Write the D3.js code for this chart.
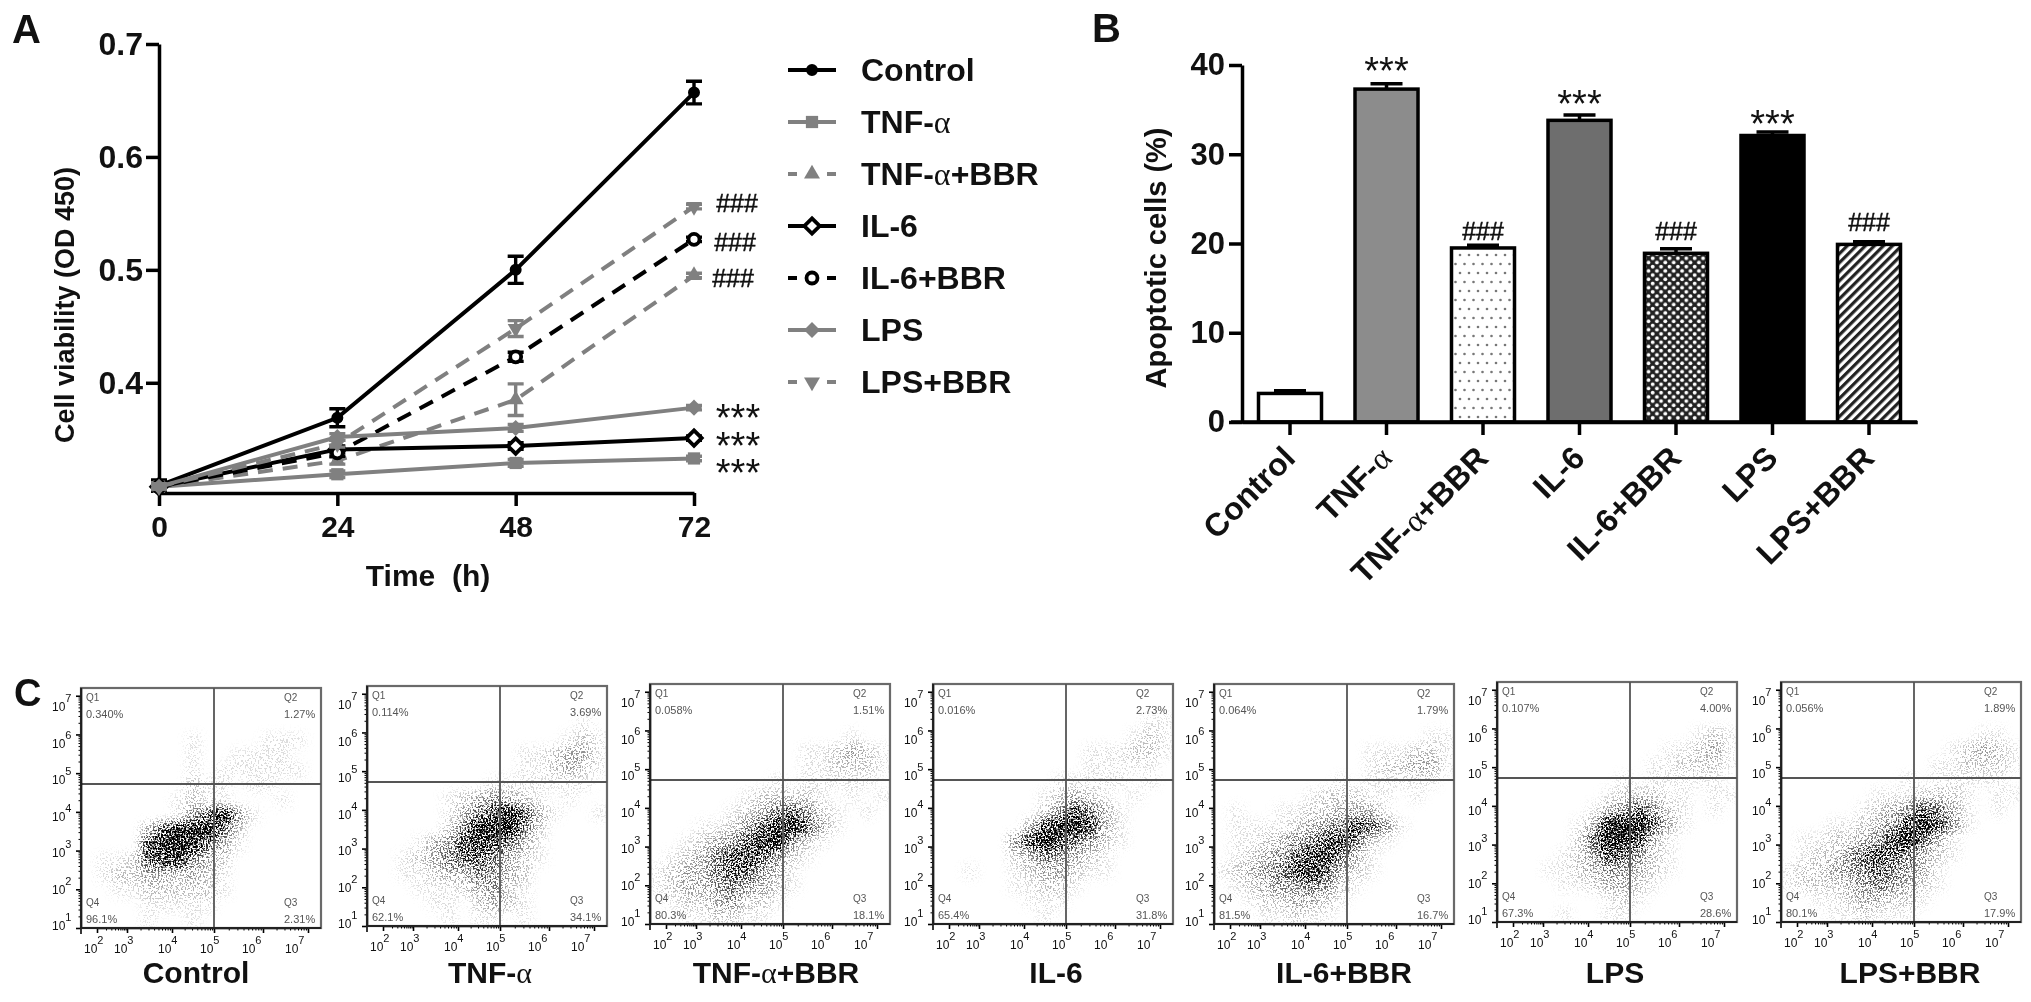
<!DOCTYPE html>
<html>
<head>
<meta charset="utf-8">
<script src="https://cdn.jsdelivr.net/npm/d3@7"></script>
<style>
  html, body { margin: 0; padding: 0; background: #fff; }
  svg { display: block; filter: blur(0.6px); }
  text { font-family: "Liberation Sans", Arial, sans-serif; fill: #111; }
</style>
</head>
<body>
<script>
// panel A values
var timePoints = [0, 24, 48, 72];
var controlMean = [0.309, 0.369, 0.500, 0.657];
var controlErr = [0.005, 0.008, 0.012, 0.010];
var tnfMean = [0.308, 0.319, 0.329, 0.333];
var tnfErr = [0.002, 0.003, 0.003, 0.002];
var tnfBbrMean = [0.308, 0.331, 0.385, 0.495];
var tnfBbrErr = [0.002, 0.003, 0.014, 0.002];
var il6Mean = [0.308, 0.341, 0.344, 0.351];
var il6Err = [0.002, 0.003, 0.003, 0.002];
var il6BbrMean = [0.308, 0.338, 0.423, 0.527];
var il6BbrErr = [0.002, 0.003, 0.004, 0.002];
var lpsMean = [0.308, 0.352, 0.360, 0.378];
var lpsErr = [0.002, 0.003, 0.003, 0.002];
var lpsBbrMean = [0.308, 0.346, 0.448, 0.556];
var lpsBbrErr = [0.002, 0.003, 0.007, 0.002];
var viabilityTicks = [0.4, 0.5, 0.6, 0.7];

// panel B values
var groups = ['Control', 'TNF-α', 'TNF-α+BBR', 'IL-6', 'IL-6+BBR', 'LPS', 'LPS+BBR'];
var apoptosis = [3.2, 37.3, 19.5, 33.8, 18.9, 32.1, 19.9];
var apoptosisErr = [0.3, 0.6, 0.3, 0.6, 0.5, 0.4, 0.3];
var apoptosisTicks = [0, 10, 20, 30, 40];

// panel C gate percentages per group
var q1Pct = ['0.340%', '0.114%', '0.058%', '0.016%', '0.064%', '0.107%', '0.056%'];
var q2Pct = ['1.27%', '3.69%', '1.51%', '2.73%', '1.79%', '4.00%', '1.89%'];
var q3Pct = ['2.31%', '34.1%', '18.1%', '31.8%', '16.7%', '28.6%', '17.9%'];
var q4Pct = ['96.1%', '62.1%', '80.3%', '65.4%', '81.5%', '67.3%', '80.1%'];

// how dark the dot cloud looks, 16 x 16 cells over each plot, top row first
var densityControl = [
  '0000000000000000', '0000000000000000', '0000000000000000', '0000000100001110',
  '0000000100111100', '0000000101111110', '0000000211011000', '0000001211000100',
  '0000001469410000', '0000379995200000', '0000799853100000', '0112678432000000',
  '0122332321000000', '0011222221000000', '0000111110000000', '0000100100000000'];
var densityTnf = [
  '0000000000000000', '0000000000000000', '0000000000000010', '0000000000000121',
  '0000000000112331', '0000000000112321', '0000000011111110', '0000012343210100',
  '0000013579631001', '0000025999520000', '0001347875310000', '0012356653210000',
  '0011233543200000', '0001112342100000', '0000110232100000', '0000010110100000'];
var densityTnfBbr = [
  '0000000000000000', '0000000000000000', '0000000000000000', '0000000000000100',
  '0000000000112321', '0000000000112221', '0000000010111110', '0000001222210101',
  '0000012356421010', '0001124689631000', '0012346894210000', '0123577642100000',
  '1233566431000000', '1233454321000000', '0122342210000000', '0011221100000000'];
var densityIl6 = [
  '0000000000000000', '0000000000000000', '0000000000000011', '0000000000000121',
  '0000000000111221', '0000000000111110', '0000000011111010', '0000000123210100',
  '0000000247531000', '0000003799731000', '0000047975421000', '0000023543210000',
  '0010012332110000', '0000011221000000', '0000001110000000', '0000000100000000'];
var densityIl6Bbr = [
  '0000000000000000', '0000000000000000', '0000000000000000', '0000000000000011',
  '0000000000111221', '0000000000122331', '0000000010111110', '0000001222110100',
  '0100112233310000', '0111123457641000', '0112345785210000', '0123467853100000',
  '1234578632100000', '0123445421000000', '0012233210000000', '0001121100000000'];
var densityLps = [
  '0000000000000000', '0000000000000000', '0000000000000000', '0000000000000121',
  '0000000000011231', '0000000000112221', '0000000010111110', '0000000122211011',
  '0000001346421010', '0000013999631000', '0000026997310000', '0000124764210000',
  '0001123443210000', '0000112332100000', '0000000121000000', '0000100110000000'];
var densityLpsBbr = [
  '0000000000000000', '0000000000000000', '0000000000000000', '0000000000000110',
  '0000000000012321', '0000000000112221', '0000000010111110', '0000001112221011',
  '0000012346531010', '0001123479741000', '0112234796310000', '0122467653210000',
  '1223456543100000', '1222345432100000', '0011233221000000', '0001121110000000'];
var densities = [densityControl, densityTnf, densityTnfBbr, densityIl6, densityIl6Bbr, densityLps, densityLpsBbr];

var decadesY = [1, 2, 3, 4, 5, 6, 7];
var decadesX = [2, 3, 4, 5, 6, 7];
var gateX = 5;     // 10^5
var gateY = 4.72;

var grey = '#808080', black = '#000';

var svg = d3.select('body').append('svg').attr('width', 2031).attr('height', 1002);
var defs = svg.append('defs');

function addText(g, str, size, weight) {
  // the alpha in the original is a Symbol glyph, so it gets a serif tspan
  var t = g.append('text').attr('font-size', size).attr('font-weight', weight || 'bold');
  str.split(/(α)/).forEach(function (part) {
    if (!part) return;
    var s = t.append('tspan').text(part);
    if (part === 'α') s.style('font-family', '"Liberation Serif", serif').attr('font-weight', 'normal');
  });
  return t;
}

function styleAxis(g, width, fontSize) {
  g.selectAll('.domain, .tick line').attr('stroke', black).attr('stroke-width', width);
  g.selectAll('.tick text').attr('font-family', '"Liberation Sans", Arial, sans-serif')
    .attr('font-size', fontSize || 30).attr('font-weight', 'bold').attr('fill', '#111');
}

/* ---------- A ---------- */
function drawLines() {
  var x = d3.scaleLinear().domain([0, 72]).range([159, 694]);
  var y = d3.scaleLinear().domain([0.3024, 0.7]).range([493, 44]);

  var series = [
    { name: 'Control', mean: controlMean, err: controlErr, color: black, shape: d3.symbolCircle, size: 113, legend: 0 },
    { name: 'TNF-α', mean: tnfMean, err: tnfErr, color: grey, shape: d3.symbolSquare, size: 150, legend: 1 },
    { name: 'TNF-α+BBR', mean: tnfBbrMean, err: tnfBbrErr, color: grey, dash: true, shape: d3.symbolTriangle, size: 110, legend: 2 },
    { name: 'IL-6', mean: il6Mean, err: il6Err, color: black, open: true, shape: d3.symbolDiamond2, size: 150, legend: 3 },
    { name: 'IL-6+BBR', mean: il6BbrMean, err: il6BbrErr, color: black, open: true, dash: true, shape: d3.symbolCircle, size: 95, legend: 4 },
    { name: 'LPS+BBR', mean: lpsBbrMean, err: lpsBbrErr, color: grey, dash: true, shape: d3.symbolTriangle, size: 110, flip: true, legend: 6 },
    { name: 'LPS', mean: lpsMean, err: lpsErr, color: grey, shape: d3.symbolDiamond2, size: 165, legend: 5 }
  ];

  var g = svg.append('g');

  var xAxis = g.append('g').attr('transform', 'translate(0,493)')
    .call(d3.axisBottom(x).tickValues(timePoints).tickSize(13).tickSizeOuter(0).tickPadding(10));
  styleAxis(xAxis, 3.5);
  var yAxis = g.append('g').attr('transform', 'translate(159,0)')
    .call(d3.axisLeft(y).tickValues(viabilityTicks).tickFormat(d3.format('.1f')).tickSize(13).tickSizeOuter(0).tickPadding(3));
  styleAxis(yAxis, 3.5, 32);

  var line = d3.line().x(function (d, i) { return x(timePoints[i]); }).y(function (d) { return y(d); });

  function marker(sel, s, tx, ty) {
    sel.append('path')
      .attr('d', d3.symbol().type(s.shape).size(s.size)())
      .attr('transform', 'translate(' + tx + ',' + ty + ')' + (s.flip ? ' rotate(180)' : ''))
      .attr('fill', s.open ? '#fff' : s.color)
      .attr('stroke', s.open ? s.color : 'none')
      .attr('stroke-width', 3.8);
  }

  series.forEach(function (s) {
    var sg = g.append('g');
    sg.append('path').attr('d', line(s.mean)).attr('fill', 'none')
      .attr('stroke', s.color).attr('stroke-width', 4)
      .attr('stroke-dasharray', s.dash ? '15,10' : null);
    s.mean.forEach(function (m, i) {
      var px = x(timePoints[i]);
      var lo = y(m - s.err[i]), hi = y(m + s.err[i]);
      sg.append('path')
        .attr('d', 'M' + (px - 8) + ',' + lo + 'H' + (px + 8) + 'M' + (px - 8) + ',' + hi + 'H' + (px + 8) + 'M' + px + ',' + lo + 'V' + hi)
        .attr('fill', 'none').attr('stroke', s.color).attr('stroke-width', 3.4);
      marker(sg, s, px, y(m));
    });
  });

  // legend
  var legendY = d3.scalePoint().domain(d3.range(7)).range([70, 382]);
  series.forEach(function (s) {
    var ly = legendY(s.legend);
    var lg = g.append('g');
    lg.append('line').attr('x1', 788).attr('x2', 836).attr('y1', ly).attr('y2', ly)
      .attr('stroke', s.color).attr('stroke-width', 4)
      .attr('stroke-dasharray', s.dash ? '9,30,9' : null);
    marker(lg, s, 812, ly);
    addText(lg, s.name, 32).attr('x', 861).attr('y', ly + 11);
  });

  // significance marks beside the last point
  var hashes = [0.559, 0.524, 0.492];
  var stars = [0.378, 0.353, 0.329];
  var hashX = [737, 735, 733];
  hashes.forEach(function (v, i) {
    addText(g, '###', 25, 'normal').attr('x', hashX[i]).attr('y', y(v) + 8.5).attr('text-anchor', 'middle')
      .style('stroke', '#111').style('stroke-width', 0.5);
  });
  stars.forEach(function (v) {
    addText(g, '***', 38, 'normal').attr('x', 738).attr('y', y(v) + 23).attr('text-anchor', 'middle');
  });

  addText(g, 'Time  (h)', 30).style('white-space', 'pre').attr('x', 428).attr('y', 586).attr('text-anchor', 'middle');
  addText(g, 'Cell viability (OD 450)', 27)
    .attr('transform', 'translate(74,305) rotate(-90)').attr('text-anchor', 'middle');
  addText(g, 'A', 40).attr('x', 12).attr('y', 43);
}

/* ---------- B ---------- */
function drawBars() {
  var x = d3.scaleBand().domain(groups).range([1241.75, 1917.25]);
  var y = d3.scaleLinear().domain([0, 40]).range([422, 65]);
  var barW = 63;

  var dots = defs.append('pattern').attr('id', 'dots').attr('patternUnits', 'userSpaceOnUse')
    .attr('width', 9).attr('height', 18);
  dots.append('rect').attr('width', 9).attr('height', 18).attr('fill', '#fff');
  dots.append('circle').attr('cx', 2).attr('cy', 3).attr('r', 1.3).attr('fill', '#777');
  dots.append('circle').attr('cx', 6.5).attr('cy', 12).attr('r', 1.3).attr('fill', '#777');

  var check = defs.append('pattern').attr('id', 'check').attr('patternUnits', 'userSpaceOnUse')
    .attr('width', 8.4).attr('height', 8.4);
  check.append('rect').attr('width', 8.4).attr('height', 8.4).attr('fill', '#222');
  check.append('circle').attr('cx', 2.1).attr('cy', 2.1).attr('r', 1.9).attr('fill', '#fff');
  check.append('circle').attr('cx', 6.3).attr('cy', 6.3).attr('r', 1.9).attr('fill', '#fff');

  var hatch = defs.append('pattern').attr('id', 'hatch').attr('patternUnits', 'userSpaceOnUse')
    .attr('width', 6.4).attr('height', 6.4).attr('patternTransform', 'rotate(45)');
  hatch.append('rect').attr('width', 6.4).attr('height', 6.4).attr('fill', '#fff');
  hatch.append('rect').attr('width', 3.2).attr('height', 6.4).attr('fill', '#222');

  var fills = ['#fff', '#8c8c8c', 'url(#dots)', '#6e6e6e', 'url(#check)', '#000', 'url(#hatch)'];
  var marks = ['', '***', '###', '***', '###', '***', '###'];
  var markAt = [0, 40.4, 21.4, 36.7, 21.3, 34.5, 22.3];

  var g = svg.append('g');
  var cx = function (d) { return x(d) + x.bandwidth() / 2; };

  g.selectAll('.err').data(groups).enter().append('path')
    .attr('d', function (d, i) {
      var c = cx(d), t = y(apoptosis[i] + apoptosisErr[i]);
      return 'M' + (c - 16) + ',' + t + 'H' + (c + 16) + 'M' + c + ',' + t + 'V' + y(apoptosis[i]);
    })
    .attr('fill', 'none').attr('stroke', black).attr('stroke-width', 3.5);

  g.selectAll('.bar').data(groups).enter().append('rect')
    .attr('x', function (d) { return cx(d) - barW / 2; })
    .attr('y', function (d, i) { return y(apoptosis[i]); })
    .attr('width', barW)
    .attr('height', function (d, i) { return y(0) - y(apoptosis[i]); })
    .attr('fill', function (d, i) { return fills[i]; })
    .attr('stroke', black).attr('stroke-width', 3.5);

  var yAxis = g.append('g').attr('transform', 'translate(1242,0)')
    .call(d3.axisLeft(y).tickValues(apoptosisTicks).tickSize(13).tickSizeOuter(0).tickPadding(4));
  styleAxis(yAxis, 3.5, 31);

  var xAxis = g.append('g').attr('transform', 'translate(0,422)')
    .call(d3.axisBottom(x).tickSize(13).tickSizeOuter(0).tickFormat(''));
  styleAxis(xAxis, 3.5);
  g.append('line').attr('x1', 1231).attr('x2', 1917).attr('y1', 422).attr('y2', 422)
    .attr('stroke', black).attr('stroke-width', 3.5);

  groups.forEach(function (d, i) {
    addText(g, d, 32).attr('text-anchor', 'end')
      .attr('transform', 'translate(' + (cx(d) + 7) + ',460) rotate(-45)');
    if (marks[i] === '***') {
      addText(g, '***', 38, 'normal').attr('x', cx(d)).attr('y', y(markAt[i]) + 23).attr('text-anchor', 'middle');
    } else if (marks[i] === '###') {
      addText(g, '###', 25, 'normal').attr('x', cx(d)).attr('y', y(markAt[i]) + 8.5).attr('text-anchor', 'middle')
        .style('stroke', '#111').style('stroke-width', 0.5);
    }
  });

  addText(g, 'Apoptotic cells (%)', 29)
    .attr('transform', 'translate(1166,258) rotate(-90)').attr('text-anchor', 'middle');
  addText(g, 'B', 40).attr('x', 1092).attr('y', 42);
}

/* ---------- C ---------- */
var panelLeft = [81, 367, 650, 933, 1214, 1497, 1781];
var panelBottom = [928, 926, 924, 924, 924, 922, 922];
var panelLabelX = [196, 490, 776, 1056, 1344, 1615, 1910];

function drawCytometry(idx) {
  var left = panelLeft[idx], bottom = panelBottom[idx], w = 240, h = 240;
  var top = bottom - h;
  var g = svg.append('g');

  var yLog = d3.scaleLog().domain([10, Math.pow(10, 7.2)]).range([bottom, top]);
  var xPos = d3.scaleLinear().domain([2, 3, 4, 5, 6, 7]).range([16, 46, 91, 133, 182, 227].map(function (v) { return left + v; }));

  // dot cloud: darkness grid, turned to stipple by a noise threshold
  var col = d3.scaleBand().domain(d3.range(16)).range([left, left + w]);
  var row = d3.scaleBand().domain(d3.range(16)).range([top, bottom]);
  var dark = d3.scalePow().exponent(1.1).domain([0, 9]).range([0, 0.95]);

  var f = defs.append('filter').attr('id', 'stipple' + idx).attr('filterUnits', 'userSpaceOnUse')
    .attr('x', left).attr('y', top).attr('width', w).attr('height', h)
    .attr('color-interpolation-filters', 'sRGB');
  f.append('feGaussianBlur').attr('in', 'SourceGraphic').attr('stdDeviation', 5).attr('result', 'dens');
  f.append('feTurbulence').attr('type', 'fractalNoise').attr('baseFrequency', 0.6)
    .attr('numOctaves', 2).attr('seed', idx + 3).attr('result', 'tex');
  f.append('feColorMatrix').attr('in', 'tex').attr('type', 'matrix')
    .attr('values', '0 0 0 0 0  0 0 0 0 0  0 0 0 0 0  3.5 0 0 0 -1.1').attr('result', 'speck');
  f.append('feComposite').attr('in', 'dens').attr('in2', 'speck').attr('operator', 'arithmetic')
    .attr('k1', 0).attr('k2', 1.6).attr('k3', 1.6).attr('k4', -1.6);

  var cloud = g.append('g').attr('filter', 'url(#stipple' + idx + ')');
  densities[idx].forEach(function (r, ri) {
    r.split('').forEach(function (c, ci) {
      if (+c === 0) return;
      cloud.append('rect').attr('x', col(ci)).attr('y', row(ri))
        .attr('width', col.bandwidth()).attr('height', row.bandwidth())
        .attr('fill', '#000').attr('fill-opacity', dark(+c));
    });
  });

  // frame and gates
  g.append('rect').attr('x', left).attr('y', top).attr('width', w).attr('height', h)
    .attr('fill', 'none').attr('stroke', '#6a6a6a').attr('stroke-width', 2.2);
  g.append('line').attr('x1', xPos(gateX)).attr('x2', xPos(gateX)).attr('y1', top).attr('y2', bottom)
    .attr('stroke', '#555').attr('stroke-width', 1.8);
  g.append('line').attr('x1', left).attr('x2', left + w)
    .attr('y1', yLog(Math.pow(10, gateY))).attr('y2', yLog(Math.pow(10, gateY)))
    .attr('stroke', '#555').attr('stroke-width', 1.8);

  // log axes: big ticks at decades, small ones between
  var major = decadesY.map(function (e) { return Math.pow(10, e); });
  var minor = [];
  decadesY.slice(0, 6).forEach(function (e) {
    d3.range(2, 10).forEach(function (k) { minor.push(k * Math.pow(10, e)); });
  });
  g.append('g').attr('transform', 'translate(' + left + ',0)')
    .call(d3.axisLeft(yLog).tickValues(major).tickSize(5).tickSizeOuter(0).tickFormat(''))
    .call(styleAxis, 1.6);
  g.append('g').attr('transform', 'translate(' + left + ',0)')
    .call(d3.axisLeft(yLog).tickValues(minor).tickSize(2.5).tickSizeOuter(0).tickFormat(''))
    .call(styleAxis, 1);

  var minorX = [];
  decadesX.slice(0, 5).forEach(function (e) {
    d3.range(2, 10).forEach(function (k) { minorX.push(e + Math.log10(k)); });
  });
  g.append('g').attr('transform', 'translate(0,' + bottom + ')')
    .call(d3.axisBottom(xPos).tickValues(decadesX).tickSize(5).tickSizeOuter(0).tickFormat(''))
    .call(styleAxis, 1.6);
  g.append('g').attr('transform', 'translate(0,' + bottom + ')')
    .call(d3.axisBottom(xPos).tickValues(minorX).tickSize(2.5).tickSizeOuter(0).tickFormat(''))
    .call(styleAxis, 1);
  g.append('line').attr('x1', left - 1).attr('x2', left + w).attr('y1', bottom).attr('y2', bottom)
    .attr('stroke', '#222').attr('stroke-width', 1.8);
  g.append('line').attr('x1', left).attr('x2', left).attr('y1', top).attr('y2', bottom + 6)
    .attr('stroke', '#222').attr('stroke-width', 1.8);

  // tick labels sit a bit off their ticks in the original
  function power(px, py, e, anchor) {
    var t = g.append('text').attr('x', px).attr('y', py).attr('font-size', 12).attr('fill', '#333')
      .attr('text-anchor', anchor);
    t.append('tspan').text('10');
    t.append('tspan').attr('dy', -9).attr('font-size', 11).text(e);
  }
  var labelY = d3.scaleLinear().domain([1, 7]).range([bottom + 2, bottom - 217]);
  decadesY.forEach(function (e) { power(left - 29, labelY(e), e, 'start'); });
  var labelX = d3.scaleLinear().domain([2, 3, 4, 5, 6, 7]).range([3, 33, 77, 119, 161, 204].map(function (v) { return left + v; }));
  decadesX.forEach(function (e) { power(labelX(e), bottom + 25, e, 'start'); });

  // quadrant names and percentages
  function quad(px, py, a, b) {
    addText(g, a, 10, 'normal').attr('x', px).attr('y', py).style('fill', '#555');
    addText(g, b, 11, 'normal').attr('x', px).attr('y', py + 17).style('fill', '#555');
  }
  quad(left + 5, top + 13, 'Q1', q1Pct[idx]);
  quad(left + 203, top + 13, 'Q2', q2Pct[idx]);
  quad(left + 203, top + 218, 'Q3', q3Pct[idx]);
  quad(left + 5, top + 218, 'Q4', q4Pct[idx]);

  addText(g, groups[idx], 30).attr('x', panelLabelX[idx]).attr('y', 983).attr('text-anchor', 'middle');
}

drawLines();
drawBars();
d3.range(7).forEach(drawCytometry);
addText(svg, 'C', 38).attr('x', 14).attr('y', 706);
</script>
</body>
</html>
